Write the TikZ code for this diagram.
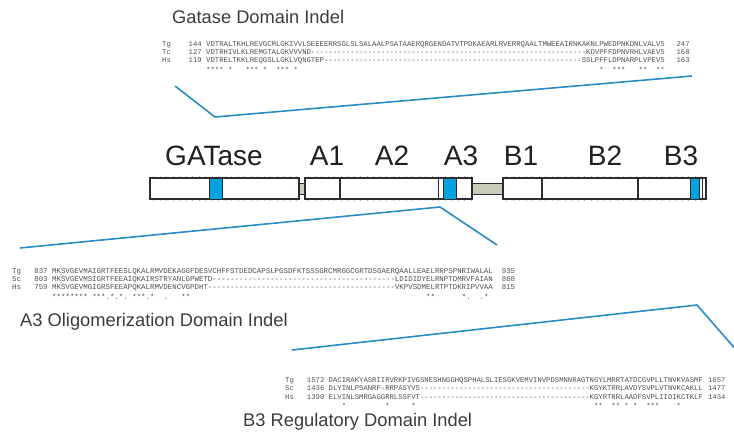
\documentclass[tikz,border=0pt]{standalone}
\usepackage{fontspec}
\setmainfont{Liberation Sans}
\setmonofont{Liberation Mono}
\ExplSyntaxOn
\NewDocumentCommand\dd{m}{\prg_replicate:nn{#1}{-}}
\ExplSyntaxOff
% blank columns in a monospaced line
\newcommand\gp[1]{\hspace*{#1\dimexpr 0.6em\relax}}
% label column width and gap before the end number, set per block
\newlength\lbw
\newcommand\numgap{2}
% one alignment row: name, x, baseline, species, start, residues, end
\newcommand\arow[7]{\node[seqtxt] (#1) at (#2,#3) {\makebox[\lbw][l]{#4}\llap{#5}\gp{1}#6\gp{\numgap}#7};}

\definecolor{lineblue}{RGB}{41,140,196}
\definecolor{boxblue}{RGB}{0,163,224}
\definecolor{linkgray}{RGB}{204,204,187}
\definecolor{edge}{RGB}{45,45,45}
\definecolor{seqgray}{RGB}{80,80,80}
\definecolor{titlegray}{RGB}{60,60,60}
\definecolor{domtext}{RGB}{35,31,32}

\tikzset{
  seqtxt/.style={text=seqgray, inner sep=0pt, anchor=base west},
  ttl/.style={font=\fontsize{18.3}{20}\selectfont, text=titlegray, inner sep=0pt, anchor=base west},
  dom/.style={font=\fontsize{28}{30}\selectfont, text=domtext, inner sep=0pt, anchor=base},
  callout/.style={draw=lineblue, line width=1.6pt, line join=round},
  barline/.style={draw=edge, line width=1.8pt},
  thinbar/.style={draw=edge, line width=0.7pt},
  hotspot/.style={draw=edge, line width=0.9pt, fill=boxblue},
  tick/.style={draw=gray!55, line width=0.45pt}
}

\begin{document}
\begin{tikzpicture}[x=1pt,y=-1pt]
\useasboundingbox[fill=white] (0,0) rectangle (734,434);

% ---------------- GATase insertion ----------------
\node[ttl] (tGat) at (172,23.5) {Gatase Domain Indel};
\begin{scope}[every node/.append style={font=\ttfamily\fontsize{7.28}{8}\selectfont}]
\setlength\lbw{39.6pt}\renewcommand\numgap{2.7}
\arow{gTg}{162}{46.5}{Tg}{144}{VDTRALTKHLREVGCMLGKIVVLSEEEERRSGLSLSALAALPSATAAERQRGENDATVTPDKAEARLRVERRQAALTMWEEAIRNKAKNLPWEDPNKDNLVALVS}{247}
\arow{gTc}{162}{54.5}{Tc}{127}{VDTRHIVLKLREMGTALGKVVVND\dd{63}KDVPFFDPNVRHLVAEVS}{168}
\arow{gHs}{162}{62.5}{Hs}{119}{VDTRELTKKLREQGSLLGKLVQNGTEP\dd{59}SSLPFFLDPNARPLVPEVS}{163}
\node[seqtxt] (gCons) at (206,72) {****\gp{1}*\gp{3}***\gp{1}*\gp{2}***\gp{1}*\gp{69}*\gp{2}***\gp{3}**\gp{2}**};
\end{scope}

% ---------------- domain bar ----------------
\node[dom] (lGAT) at (214,165) {GATase};
\node[dom] (lA1) at (327,165) {A1};
\node[dom] (lA2) at (392,165) {A2};
\node[dom] (lA3) at (461,165) {A3};
\node[dom] (lB1) at (521,165) {B1};
\node[dom] (lB2) at (605,165) {B2};
\node[dom] (lB3) at (681,165) {B3};

\foreach \x in {153.5,160,...,297} {\draw[tick] (\x,176.2) -- (\x,177.6); \draw[tick] (\x,199.4) -- (\x,200.8);}
\foreach \x in {308.5,315,...,471} {\draw[tick] (\x,176.2) -- (\x,177.6); \draw[tick] (\x,199.4) -- (\x,200.8);}
\foreach \x in {506.5,513,...,705} {\draw[tick] (\x,176.2) -- (\x,177.6); \draw[tick] (\x,199.4) -- (\x,200.8);}

\draw[barline, fill=linkgray] (299,183.5) rectangle (305,194.5);
\draw[barline, fill=linkgray] (472,183.5) rectangle (503,194.5);
\draw[barline, fill=white] (150,178) rectangle (299,199);
\draw[barline, fill=white] (305,178) rectangle (472,199);
\draw[barline, fill=white] (503,178) rectangle (706,199);
\draw[barline] (340,178) -- (340,199);
\draw[barline] (542,178) -- (542,199);
\draw[barline] (638,178) -- (638,199);
\draw[thinbar] (438,178) -- (438,199);
\draw[thinbar] (702,178) -- (702,199);
\draw[hotspot] (209,178) rectangle (222,199);
\draw[hotspot] (443,178) rectangle (456,199);
\draw[hotspot] (690,178) rectangle (699,199);

% ---------------- callout lines ----------------
\coordinate (gA) at (175,86);
\coordinate (gB) at (215,117);
\coordinate (gC) at (692,76);
\draw[callout] (gA) -- (gB) -- (gC);
\coordinate (aA) at (20,248);
\coordinate (aB) at (440,207);
\coordinate (aC) at (497,245);
\draw[callout] (aA) -- (aB) -- (aC);
\coordinate (bA) at (292,350);
\coordinate (bB) at (697,305);
\coordinate (bC) at (738,352);
\draw[callout] (bA) -- (bB) -- (bC);

% ---------------- A3 insertion ----------------
\begin{scope}[every node/.append style={font=\ttfamily\fontsize{7.42}{8}\selectfont}]
\setlength\lbw{35.5pt}\renewcommand\numgap{2}
\arow{aTg}{12}{273.5}{Tg}{837}{MKSVGEVMAIGRTFEESLQKALRMVDEKAGGFDESVCHFFSTDEDCAPSLPGSDFKTSSSGRCMRGGCGRTDSGAERQAALLEAELRRPSPNRIWALAL}{935}
\arow{aSc}{12}{281.5}{Sc}{803}{MKSVGEVMSIGRTFEEAIQKAIRSTRYANLGPWETD\dd{41}LDIDIDYELRNPTDMRVFAIAN}{860}
\arow{aHs}{12}{289.5}{Hs}{759}{MKSVGEVMGIGRSFEEAPQKALRMVDENCVGPDHT\dd{42}VKPVSDMELRTPTDKRIPVVAA}{815}
\node[seqtxt] (aCons) at (52,299) {********\gp{1}***.*.*.\gp{1}***.*\gp{2}.\gp{3}**\gp{53}**\gp{6}*.\gp{2}.*};
\end{scope}
\node[ttl] (tA3) at (20,326.5) {A3 Oligomerization Domain Indel};

% ---------------- B3 insertion ----------------
\begin{scope}[every node/.append style={font=\ttfamily\fontsize{7.25}{8}\selectfont}]
\setlength\lbw{39.2pt}\renewcommand\numgap{1.2}
\arow{bTg}{285}{382}{Tg}{1572}{DACIRAKYASRIIRVRKPIVGSNESHNGGHQSPHALSLIESGKVEMVINVPDSMNNRAGTNGYLMRRTATDCGVPLLTNVKVASMF}{1657}
\arow{bSc}{285}{390.5}{Sc}{1436}{DLYINLPSANRF-RRPASYVS\dd{39}KGYKTRRLAVDYSVPLVTNVKCAKLL}{1477}
\arow{bHs}{285}{399}{Hs}{1390}{ELVINLSMRGAGGRRLSSFVT\dd{39}KGYRTRRLAADFSVPLIIDIKCTKLF}{1434}
\node[seqtxt] (bCons) at (328.5,408.5) {\gp{3}*\gp{9}*\gp{5}*\gp{41}**\gp{2}**\gp{1}*\gp{1}*\gp{2}***\gp{4}*};
\end{scope}
\node[ttl] (tB3) at (243,426.5) {B3 Regulatory Domain Indel};
\end{tikzpicture}
\end{document}
